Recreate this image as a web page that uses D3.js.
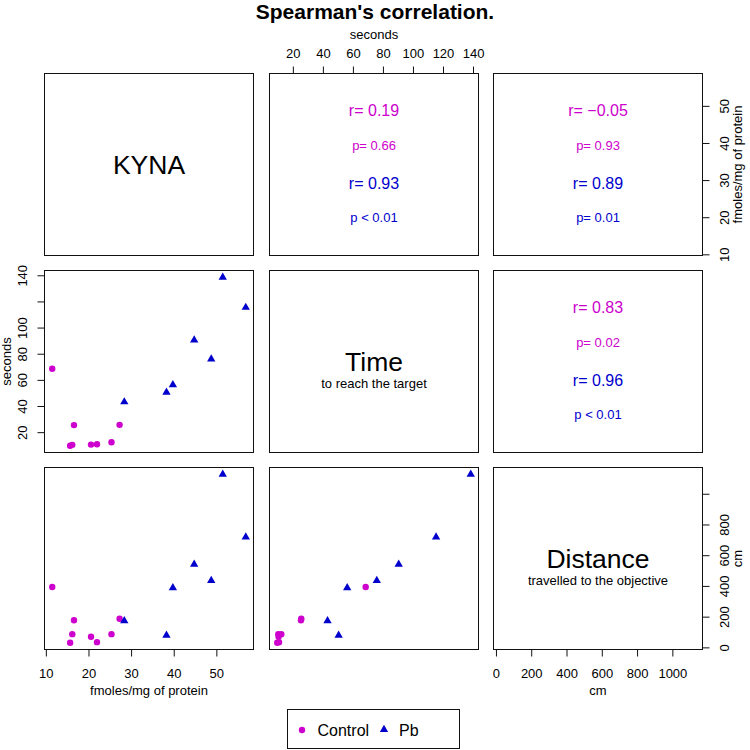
<!DOCTYPE html>
<html><head><meta charset="utf-8">
<script src="https://cdn.jsdelivr.net/npm/d3@7"></script>
<style>
body{margin:0;background:#fff}
text{font-family:"Liberation Sans",Arial,Helvetica,sans-serif}
</style>
</head><body>
<svg id="chart" width="750" height="750"></svg>
<script>
// ---------- data ----------
const chartTitle = "Spearman's correlation.";
const groups = ["Control", "Pb"];
const groupColors = ["#CD00CD", "#0000CD"];

const varNames = ["KYNA", "Time", "Distance"];
const varSubtitles = ["", "to reach the target", "travelled to the objective"];
const varUnits = ["fmoles/mg of protein", "seconds", "cm"];

// Control group
const controlKyna = [11.5, 15.7, 16.2, 16.6, 20.6, 22.0, 25.4, 27.3];
const controlTime = [68.5, 9.6, 10.3, 25.4, 10.5, 10.8, 12.3, 25.6];
const controlDist = [393, 30, 86, 177, 69, 34, 86, 186];
// Pb group
const pbKyna = [28.4, 38.3, 39.8, 44.8, 48.8, 51.5, 56.9];
const pbTime = [43.1, 50.5, 56.2, 90.5, 75.9, 138.5, 115.4];
const pbDist = [173, 78, 387, 541, 435, 1127, 718];

// ticks
const kynaTicks = [10, 20, 30, 40, 50];
const kynaTickLabels = ["10", "20", "30", "40", "50"];
const timeTicks = [20, 40, 60, 80, 100, 120, 140];
const timeTickLabelsTop = ["20", "40", "60", "80", "100", "120", "140"];
const timeTickLabelsLeft = ["20", "40", "60", "80", "100", "", "140"];
const distTicks = [0, 200, 400, 600, 800, 1000];
const distTickLabelsBottom = ["0", "200", "400", "600", "800", "1000"];
const distTickLabelsRight = ["0", "200", "400", "600", "800", ""];

// correlation panels (row, col)
const corrCells = [[0, 1], [0, 2], [1, 2]];
const controlR = ["r= 0.19", "r= \u22120.05", "r= 0.83"];
const controlP = ["p= 0.66", "p= 0.93", "p= 0.02"];
const pbR = ["r= 0.93", "r= 0.89", "r= 0.96"];
const pbP = ["p < 0.01", "p= 0.01", "p < 0.01"];

// ---------- layout ----------
const svg = d3.select("#chart");
const cols = [44.5, 269.5, 493.5];
const rows = [73.5, 270.5, 467.5];
const W = 209, H = 182;
const FS = 13;

const groupVals = [
  [controlKyna, controlTime, controlDist],
  [pbKyna, pbTime, pbDist]
];

function extDomain(v) {
  const all = groupVals[0][v].concat(groupVals[1][v]);
  const [mn, mx] = d3.extent(all);
  const pad = (mx - mn) * 0.04;
  return [mn - pad, mx + pad];
}
const xS = [0, 1, 2].map(v => d3.scaleLinear().domain(extDomain(v)).range([cols[v], cols[v] + W]));
const yS = [0, 1, 2].map(v => d3.scaleLinear().domain(extDomain(v)).range([rows[v] + H, rows[v]]));

// title
svg.append("text").attr("x", 375).attr("y", 19).attr("text-anchor", "middle")
  .attr("font-size", 21).attr("font-weight", "bold").text(chartTitle);

// panels
for (let i = 0; i < 3; i++) {
  for (let j = 0; j < 3; j++) {
    const g = svg.append("g");
    const cx = cols[j] + W / 2;
    if (i > j) {
      groups.forEach((gr, gi) => {
        const xs = groupVals[gi][j], ys = groupVals[gi][i];
        const pts = xs.map((x, k) => [x, ys[k]]);
        if (gi === 0) {
          g.selectAll(null).data(pts).enter().append("circle")
            .attr("cx", d => xS[j](d[0])).attr("cy", d => yS[i](d[1]))
            .attr("r", 3.2).attr("fill", groupColors[gi]);
        } else {
          g.selectAll(null).data(pts).enter().append("path")
            .attr("d", d3.symbol(d3.symbolTriangle).size(30))
            .attr("transform", d => `translate(${xS[j](d[0])},${yS[i](d[1])})`)
            .attr("fill", groupColors[gi]);
        }
      });
    } else if (i === j) {
      g.append("text").attr("x", cx).attr("y", rows[i] + 100).attr("text-anchor", "middle")
        .attr("font-size", 26.5).text(varNames[i]);
      if (varSubtitles[i]) {
        g.append("text").attr("x", cx).attr("y", rows[i] + 117).attr("text-anchor", "middle")
          .attr("font-size", FS).text(varSubtitles[i]);
      }
    } else {
      const idx = corrCells.findIndex(c => c[0] === i && c[1] === j);
      const lines = [
        [controlR[idx], 16, groupColors[0], 42],
        [controlP[idx], FS, groupColors[0], 76],
        [pbR[idx], 16, groupColors[1], 115],
        [pbP[idx], FS, groupColors[1], 148]
      ];
      lines.forEach(l => {
        g.append("text").attr("x", cx).attr("y", rows[i] + l[3]).attr("text-anchor", "middle")
          .attr("font-size", l[1]).attr("fill", l[2]).text(l[0]);
      });
    }
    g.append("rect").attr("x", cols[j]).attr("y", rows[i]).attr("width", W).attr("height", H)
      .attr("fill", "none").attr("stroke", "#111").attr("stroke-width", 1);
  }
}

function styleAxis(ax) {
  ax.attr("font-family", null).attr("font-size", null);
  ax.select(".domain").remove();
  ax.selectAll(".tick line").attr("stroke", "#111");
  ax.selectAll(".tick text").attr("font-size", FS).attr("fill", "#000");
}

// bottom axis: KYNA (col 0)
let ax = svg.append("g").attr("transform", `translate(0,${rows[2] + H})`)
  .call(d3.axisBottom(xS[0]).tickValues(kynaTicks).tickSize(7)
    .tickFormat((d, k) => kynaTickLabels[k]));
styleAxis(ax);
ax.selectAll(".tick text").attr("dy", null).attr("y", 28);
svg.append("text").attr("x", cols[0] + W / 2).attr("y", rows[2] + H + 45).attr("text-anchor", "middle")
  .attr("font-size", FS).text(varUnits[0]);

// bottom axis: Distance (col 2)
ax = svg.append("g").attr("transform", `translate(0,${rows[2] + H})`)
  .call(d3.axisBottom(xS[2]).tickValues(distTicks).tickSize(7)
    .tickFormat((d, k) => distTickLabelsBottom[k]));
styleAxis(ax);
ax.selectAll(".tick text").attr("dy", null).attr("y", 28);
svg.append("text").attr("x", cols[2] + W / 2).attr("y", rows[2] + H + 45).attr("text-anchor", "middle")
  .attr("font-size", FS).text(varUnits[2]);

// top axis: Time (col 1)
ax = svg.append("g").attr("transform", `translate(0,${rows[0]})`)
  .call(d3.axisTop(xS[1]).tickValues(timeTicks).tickSize(7)
    .tickFormat((d, k) => timeTickLabelsTop[k]));
styleAxis(ax);
ax.selectAll(".tick text").attr("dy", null).attr("y", -16);
svg.append("text").attr("x", cols[1] + W / 2).attr("y", 39).attr("text-anchor", "middle")
  .attr("font-size", FS).text(varUnits[1]);

// left axis: Time (row 1)
ax = svg.append("g").attr("transform", `translate(${cols[0]},0)`)
  .call(d3.axisLeft(yS[1]).tickValues(timeTicks).tickSize(7)
    .tickFormat((d, k) => timeTickLabelsLeft[k]));
styleAxis(ax);
ax.selectAll(".tick text").attr("x", null).attr("dy", null).attr("text-anchor", "middle")
  .attr("transform", "translate(-18,0) rotate(-90)");
svg.append("text").attr("transform", `translate(11,${rows[1] + H / 2}) rotate(-90)`)
  .attr("text-anchor", "middle").attr("font-size", FS).text(varUnits[1]);

// right axis: KYNA (row 0)
ax = svg.append("g").attr("transform", `translate(${cols[2] + W},0)`)
  .call(d3.axisRight(yS[0]).tickValues(kynaTicks).tickSize(7)
    .tickFormat((d, k) => kynaTickLabels[k]));
styleAxis(ax);
ax.selectAll(".tick text").attr("x", null).attr("dy", null).attr("text-anchor", "middle")
  .attr("transform", "translate(26,0) rotate(-90)");
svg.append("text").attr("transform", `translate(742,${rows[0] + H / 2}) rotate(-90)`)
  .attr("text-anchor", "middle").attr("font-size", FS).text(varUnits[0]);

// right axis: Distance (row 2)
ax = svg.append("g").attr("transform", `translate(${cols[2] + W},0)`)
  .call(d3.axisRight(yS[2]).tickValues(distTicks).tickSize(7)
    .tickFormat((d, k) => distTickLabelsRight[k]));
styleAxis(ax);
ax.selectAll(".tick text").attr("x", null).attr("dy", null).attr("text-anchor", "middle")
  .attr("transform", "translate(26,0) rotate(-90)");
svg.append("text").attr("transform", `translate(742,${rows[2] + H / 2}) rotate(-90)`)
  .attr("text-anchor", "middle").attr("font-size", FS).text(varUnits[2]);

// legend
const lg = svg.append("g");
lg.append("rect").attr("x", 287.5).attr("y", 709.5).attr("width", 172).attr("height", 39)
  .attr("fill", "#fff").attr("stroke", "#111");
lg.append("circle").attr("cx", 302).attr("cy", 730).attr("r", 3.2).attr("fill", groupColors[0]);
lg.append("text").attr("x", 317.5).attr("y", 735.5).attr("font-size", 16).text(groups[0]);
lg.append("path").attr("d", d3.symbol(d3.symbolTriangle).size(30))
  .attr("transform", "translate(384,729.5)").attr("fill", groupColors[1]);
lg.append("text").attr("x", 399).attr("y", 735.5).attr("font-size", 16).text(groups[1]);
</script>
</body></html>
